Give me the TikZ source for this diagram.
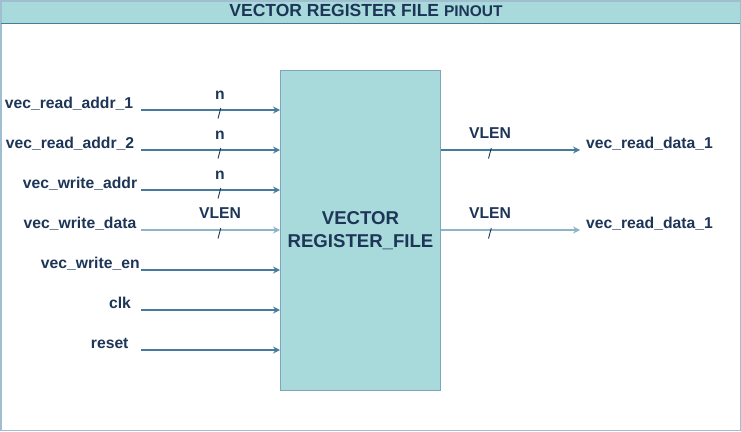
\documentclass[tikz,border=0pt]{standalone}
\usepackage{fontspec}
\setmainfont{Liberation Sans}
\usetikzlibrary{arrows.meta}
\definecolor{fillc}{HTML}{A8DADC}
\definecolor{txtc}{HTML}{1D3557}
\definecolor{arrc}{HTML}{457B9D}
\definecolor{arrl}{HTML}{8DB4C9}
\definecolor{framec}{HTML}{A0BED0}
\definecolor{boxc}{HTML}{7EA5BD}
\tikzset{
  lbl/.style={text=txtc, font=\bfseries\fontsize{15.7}{18}\selectfont, inner sep=0pt, anchor=base},
  pin/.style={draw=arrc, line width=1.1pt, -{Stealth[length=7pt,width=7pt,inset=2.5pt]}},
  pinlight/.style={pin, draw=arrl},
  busmark/.style={draw=txtc, line width=0.9pt},
}
\begin{document}
\begin{tikzpicture}[x=1pt,y=-1pt]
\useasboundingbox (0,0) rectangle (741,431);
% outer frame
\draw[framec, line width=1.5pt, fill=white] (0.75,0.75) rectangle (740.25,430.25);
% title bar
\fill[fillc] (0.75,0.75) rectangle (740.25,23);
\draw[framec, line width=1.5pt] (0.75,0.75) rectangle (740.25,430.25);
\draw[arrc, line width=1pt] (0.75,23) -- (740.25,23);
\node[text=txtc, inner sep=0pt, anchor=base] (title) at (366,16.8)
  {\bfseries\fontsize{17.5}{20}\selectfont VECTOR REGISTER FILE \fontsize{15.5}{18}\selectfont PINOUT};
% main block
\node[draw=boxc, line width=1pt, fill=fillc, minimum width=160pt, minimum height=320pt,
      anchor=north west, inner sep=0pt, text=txtc, align=center,
      font=\bfseries\fontsize{18.6}{23}\selectfont] (rf) at (280,70) {VECTOR\\REGISTER\_FILE};
% inputs
\foreach \i/\y/\cx/\txt/\st in {
  1/110/69/vec\_read\_addr\_1/pin,
  2/150/70/vec\_read\_addr\_2/pin,
  3/190/80/vec\_write\_addr/pin,
  4/230/80/vec\_write\_data/pinlight,
  5/270/90.3/vec\_write\_en/pin,
  6/310/120/clk/pin,
  7/350/109.7/reset/pin}{
  \node[lbl] (inl\i) at (\cx,\y-1.5) {\txt};
  \coordinate (in\i) at (141,\y);
  \draw[\st] (in\i) -- (rf.west |- in\i);
}
% bus marks on inputs
\foreach \i in {1,2,3,4}{
  \path (in\i) ++(77,8.5) coordinate (ba\i) ++(2.8,-10.5) coordinate (bb\i);
  \draw[busmark] (ba\i) -- (bb\i);
}
\node[lbl] (w1) at (220,99.3) {n};
\node[lbl] (w2) at (220,139.3) {n};
\node[lbl] (w3) at (220,179.3) {n};
\node[lbl] (w4) at (220,218.3) {VLEN};
% outputs
\coordinate (out1) at (580,150);
\coordinate (out2) at (580,230);
\draw[pin] (rf.east |- out1) -- (out1);
\draw[pinlight] (rf.east |- out2) -- (out2);
\node[lbl, anchor=base west] (outl1) at (586,148) {vec\_read\_data\_1};
\node[lbl, anchor=base west] (outl2) at (586,228) {vec\_read\_data\_1};
\foreach \i in {1,2}{
  \path (out\i) ++(-91.5,8.5) coordinate (oa\i) ++(2.8,-10.5) coordinate (ob\i);
  \draw[busmark] (oa\i) -- (ob\i);
}
\node[lbl] (ow1) at (490,138.3) {VLEN};
\node[lbl] (ow2) at (490,218.3) {VLEN};
\end{tikzpicture}
\end{document}
